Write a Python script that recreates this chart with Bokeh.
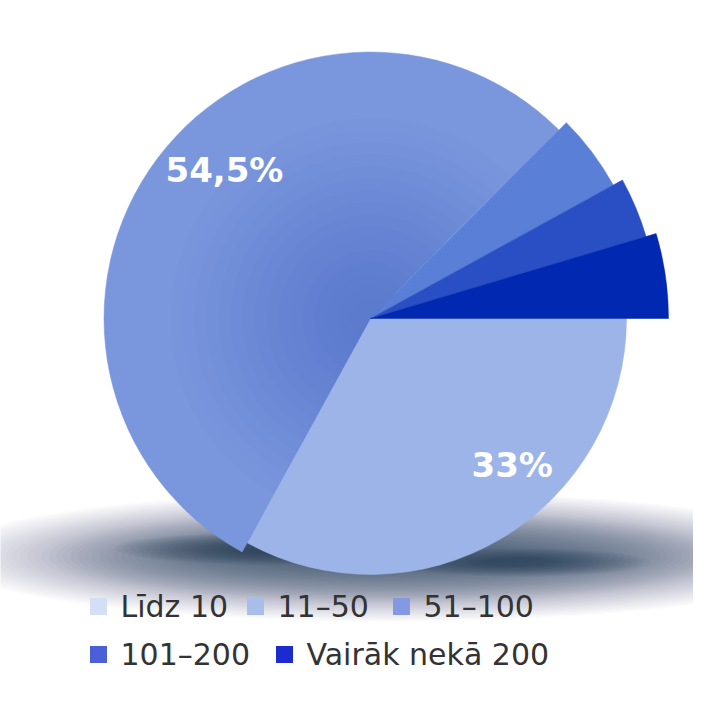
import math
from bokeh.plotting import figure
from bokeh.models import Range1d, ColumnDataSource
from bokeh.core.properties import value
from bokeh.embed import file_html
from bokeh.resources import INLINE

# ---- data ----
categories = ["Līdz 10", "11–50", "51–100", "101–200", "Vairāk nekā 200"]
shares = [33.0, 54.5, 4.5, 3.4, 4.6]
slice_labels = ["33%", "54,5%", "", "", ""]
slice_colors = ["#9db4e8", "#7a97dd", "#5a7fd6", "#2a4fc4", "#0028b0"]
legend_colors = ["#d2dff5", "#a9bde9", "#8599e2", "#4b60d6", "#1b2bd0"]

W = H = 693
p = figure(width=W, height=H, output_backend="svg", toolbar_location=None,
           x_range=Range1d(0, W), y_range=Range1d(0, H), min_border=0)
p.axis.visible = False
p.grid.visible = False
p.outline_line_color = None
p.background_fill_color = "white"

def py(y_page):
    return H - y_page

def px(x_page):
    return x_page

cx, cy = px(370), py(318)

# ---- soft shadow under the pie ----
n = 44
for i in range(n):
    t = i / (n - 1)
    a = 0.018 if i < 14 else 0.04
    p.ellipse(x=px(390), y=py(556), width=900 - 620 * t, height=130 - 110 * t,
              width_units="screen", height_units="screen",
              fill_color="#3a4a62", fill_alpha=a, line_color=None)
for i in range(16):
    t = i / 15
    p.ellipse(x=px(265), y=py(548), width=300 - 220 * t, height=32 - 24 * t,
              width_units="screen", height_units="screen",
              fill_color="#1e2c44", fill_alpha=0.045, line_color=None)
    p.ellipse(x=px(520), y=py(562), width=260 - 190 * t, height=28 - 20 * t,
              width_units="screen", height_units="screen",
              fill_color="#1e2c44", fill_alpha=0.04, line_color=None)
# white fade on the top of the haze
for i in range(10):
    p.rect(x=px(354), y=py(478 - 5 * i), width=780, height=10, width_units="screen",
           height_units="screen", fill_color="white", fill_alpha=0.15, line_color=None)

# ---- pie wedges (clockwise from 3 o'clock, radii growing) ----
total = sum(shares)
starts, ends, radii = [], [], []
acc = 0.0
for i, s in enumerate(shares):
    a0 = -acc / total * 2 * math.pi
    acc += s
    a1 = -acc / total * 2 * math.pi
    starts.append(a0)
    ends.append(a1)
    radii.append(256 + 10.5 * i)

src = ColumnDataSource(dict(start=starts, end=ends, r=radii, color=slice_colors,
                            x=[cx] * len(shares), y=[cy] * len(shares)))
p.wedge(x="x", y="y", radius="r", radius_units="screen", start_angle="start",
        end_angle="end", direction="clock", fill_color="color",
        line_color="color", line_width=0.5, source=src)

# mild darkening toward the centre of the big slice
for k in range(16):
    rr = 200 - k * 12
    p.wedge(x=cx, y=cy, radius=rr, radius_units="screen",
            start_angle=starts[1], end_angle=ends[1] + 0.01, direction="clock",
            fill_color="#4a6fcc", fill_alpha=0.03, line_color=None)

# ---- percentage labels ----
label_polar = {0: (204, -46.0), 1: (208, 134.6)}
lx, ly, lt = [], [], []
for i, (rr, ang) in label_polar.items():
    a = math.radians(ang)
    lx.append(cx + rr * math.cos(a))
    ly.append(cy + rr * math.sin(a))
    lt.append(slice_labels[i])
p.text(x=lx, y=ly, text=lt, text_color="white", text_font=value("DejaVu Sans"),
       text_font_style="bold", text_font_size="34px", text_align="center",
       text_baseline="middle")

# ---- legend ----
legend_rows = [0, 0, 0, 1, 1]
legend_square_x = [98, 255, 401, 98, 284]
row_y = [606, 654]
sq_x = [px(v) for v in legend_square_x]
sq_y = [py(row_y[r]) for r in legend_rows]
p.rect(x=sq_x, y=sq_y, width=17, height=17, width_units="screen",
       height_units="screen", fill_color=legend_colors, line_color=None)
p.text(x=[v + 22 for v in sq_x], y=sq_y, text=categories, text_color="#333333",
       text_font=value("DejaVu Sans"), text_font_size="30px",
       text_align="left", text_baseline="middle")

open("out.html", "w").write(file_html(p, INLINE))
